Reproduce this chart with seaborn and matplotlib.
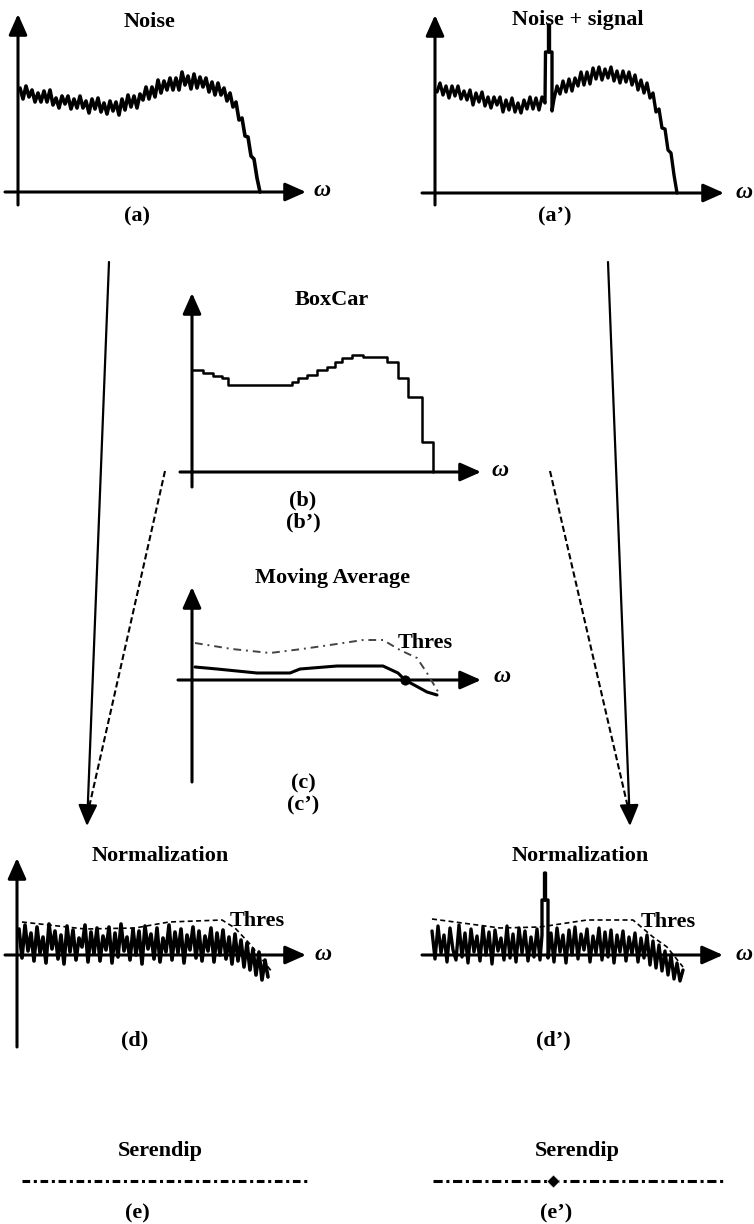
import numpy as np
import pandas as pd
import matplotlib
matplotlib.use("Agg")
import matplotlib.pyplot as plt
import seaborn as sns

# ---------------- data (units = pixels above each axis) ----------------
# (a) raw noise spectrum
a_freq = [2, 5, 8, 11, 14, 17, 20, 23, 26, 29, 32, 35, 38, 41, 44, 47, 50, 53, 56, 59,
          62, 65, 68, 71, 74, 77, 80, 83, 86, 89, 92, 95, 98, 101, 104, 107, 110, 113, 116, 119,
          122, 125, 128, 131, 134, 137, 140, 143, 146, 149, 152, 155, 158, 161, 164, 167, 170, 173, 176, 179,
          182, 185, 188, 191, 194, 197, 200, 203, 206, 209, 212, 215, 218, 221, 224, 227, 230, 233, 236, 239, 242]
a_power = [104, 93, 106, 95, 102, 90, 99, 90, 101, 90, 102, 87, 94, 84, 96, 88, 96, 83, 93, 84,
           96, 84, 91, 79, 93, 83, 94, 80, 89, 78, 91, 81, 90, 77, 93, 82, 97, 85, 96, 84,
           98, 92, 105, 93, 105, 95, 112, 99, 111, 102, 114, 102, 114, 102, 120, 107, 116, 103, 118, 104,
           115, 105, 114, 100, 110, 97, 109, 97, 104, 91, 99, 85, 90, 72, 74, 56, 55, 36, 33, 14, 0]

# (a') noise + narrow-band signal
a2_freq = [2, 5, 8, 11, 14, 17, 20, 23, 26, 29, 32, 35, 38, 41, 44, 47, 50, 53, 56, 59,
           62, 65, 68, 71, 74, 77, 80, 83, 86, 89, 92, 95, 98, 101, 104, 107, 110,
           110.5, 113.5, 113.5, 114.5, 114.5, 117, 117,
           119, 122, 125, 128, 131, 134, 137, 140, 143, 146, 149, 152, 155, 158, 161, 164, 167, 170, 173, 176,
           179, 182, 185, 188, 191, 194, 197, 200, 203, 206, 209, 212, 215, 218, 221, 224, 227, 230, 233, 236, 239, 242]
a2_power = [101, 110, 98, 107, 95, 107, 97, 107, 94, 102, 93, 103, 88, 100, 91, 101, 87, 96, 85, 96,
            88, 96, 81, 93, 83, 95, 81, 90, 80, 93, 84, 96, 84, 95, 83, 96, 90,
            141, 141, 168, 168, 141, 141, 82,
            94, 107, 99, 112, 101, 114, 102, 115, 107, 121, 108, 121, 109, 125, 114, 126, 113, 124, 115, 126,
            112, 122, 110, 122, 111, 121, 108, 118, 103, 113, 100, 110, 95, 100, 81, 84, 65, 64, 43, 40, 18, 0]

# (b) BoxCar smoothed spectrum (step edges)
b_freq = [1, 11, 21, 30, 36, 100, 106, 115, 125, 135, 143, 150, 160, 171, 195, 206, 216, 230, 241]
b_power = [102, 99, 96, 94, 87, 90, 94, 97, 102, 105, 110, 114, 117, 115, 110, 94, 75, 30, 0]

# (c) moving average and threshold
c_freq = [3, 25, 65, 98, 108, 145, 191, 206, 213, 235, 245]
c_avg = [13, 11, 7, 7, 11, 14, 14, 7, 0, -12, -15]
c_thr_freq = [3, 40, 78, 110, 138, 171, 191, 208, 225, 235, 248]
c_thr = [37, 31, 27, 31, 35, 40, 40, 30, 22, 7, -15]
c_cross = [213]

# (d) normalized noise
d_power = [26, -3, 30, 4, 22, -6, 28, 2, 18, -8, 31, 6, 24, -4, 20, -9, 29, 3, 25, -5,
           17, 8, 30, -7, 23, 1, 27, -6, 19, 5, 28, -8, 22, -2, 31, 4, 18, -5, 26, 0,
           24, -9, 29, 6, 21, -4, 27, -7, 17, 3, 30, -5, 23, 2, 26, -8, 20, 5, 28, -3,
           24, -6, 19, 4, 27, -7, 22, 0, 25, -4, 18, -9, 21, -6, 15, -12, 12, -15, 6, -20,
           3, -25, -5, -22]
d_freq = list(range(2, 2 + 3 * len(d_power), 3))
d_thr_freq = [5, 68, 118, 152, 205, 218, 232, 248, 255]
d_thr = [33, 26, 27, 33, 35, 27, 12, -8, -17]

# (d') normalized noise + signal
d2_freq = [0, 3, 6, 9, 12, 15, 18, 21, 24, 27, 30, 33, 36, 39, 42, 45, 48, 51, 54, 57,
           60, 63, 66, 69, 72, 75, 78, 81, 84, 87, 90, 93, 96, 99, 102, 105, 108,
           110, 110, 112.5, 112.5, 113.5, 113.5, 116, 116,
           119, 122, 125, 128, 131, 134, 137, 140, 143, 146, 149, 152, 155, 158, 161, 164, 167, 170, 173, 176,
           179, 182, 185, 188, 191, 194, 197, 200, 203, 206, 209, 212, 215, 218, 221, 224, 227, 230, 233, 236,
           239, 242, 245, 248, 251]
d2_power = [24, -4, 29, 2, 20, -7, 27, 5, -5, 30, -2, 22, -8, 26, 3, 19, -6, 28, 0, 23,
            -9, 25, 4, 17, -5, 29, -3, 21, -7, 27, 2, 24, -6, 18, -2, 26, -5,
            20, 55, 55, 82, 82, 55, 55, -3,
            22, -7, 27, 3, 20, -8, 25, 0, 28, -4, 21, 5, 26, -7, 19, 2, 27, -5, 23, -2,
            25, -8, 20, 3, 24, -6, 18, 1, 22, -7, 17, -3, 20, -10, 14, -13, 10, -16, 4, -20,
            0, -24, -8, -26, -15]
d2_thr_freq = [0, 68, 108, 155, 201, 221, 235, 251]
d2_thr = [36, 27, 28, 35, 35, 18, 8, -12]

# (e) Serendip output
e_span = [0, 285]
e2_span = [0, 292]
e2_hit = [120]

# ---------------- figure ----------------
W, H = 754, 1224
sns.set_theme(style="white")
plt.rcParams["font.family"] = ["Liberation Serif", "DejaVu Serif"]

fig = plt.figure(figsize=(W / 100, H / 100), dpi=100)
fig.patch.set_facecolor("white")

# overlay in pixel coordinates for labels and diagram arrows
ax0 = fig.add_axes([0, 0, 1, 1])
ax0.set_xlim(0, W)
ax0.set_ylim(H, 0)
ax0.axis("off")


def panel(ox, oy):
    ax = fig.add_axes([0, 0, 1, 1])
    ax.set_xlim(-ox, W - ox)
    ax.set_ylim(oy - H, oy)
    ax.axis("off")
    return ax


def arrow(x0, y0, x1, y1, lw=2.2, hl=0.9, hw=0.4, ms=14):
    ax0.annotate("", xy=(x1, y1), xytext=(x0, y0),
                 arrowprops=dict(arrowstyle=f"-|>,head_length={hl},head_width={hw}",
                                 mutation_scale=ms, lw=lw, color="black",
                                 shrinkA=0, shrinkB=0))


def txt(x, y, s, size=16, **kw):
    ax0.text(x, y, s, ha="center", va="center", fontsize=size,
             fontweight="bold", color="black", **kw)


def omega(x, y):
    ax0.text(x, y, "ω", ha="center", va="center", fontsize=17,
             fontweight="bold", fontstyle="italic", color="black")


# ---- axes arrows ----
arrow(18, 205, 18, 14); arrow(5, 192, 306, 192)
arrow(435, 205, 435, 15); arrow(422, 193, 724, 193)
arrow(192, 487, 192, 293); arrow(180, 472, 481, 472)
arrow(192, 782, 192, 587); arrow(178, 680, 481, 680)
arrow(17, 1047, 17, 858); arrow(5, 955, 306, 955)
arrow(422, 955, 723, 955)

# ---- flow arrows ----
arrow(109, 262, 87, 826, lw=1.6, hl=1.0, hw=0.45, ms=13)
ax0.plot([165, 88], [471, 812], color="black", lw=1.5, dashes=(3, 1.5))
arrow(608, 262, 630, 826, lw=1.6, hl=1.0, hw=0.45, ms=13)
ax0.plot([550, 629], [471, 812], color="black", lw=1.5, dashes=(3, 1.5))

# ---- (a) ----
ax = panel(18, 192)
sns.lineplot(x=a_freq, y=a_power, ax=ax, color="black", lw=2.6, sort=False, estimator=None)

# ---- (a') ----
ax = panel(435, 193)
sns.lineplot(x=a2_freq, y=a2_power, ax=ax, color="black", lw=2.4, sort=False, estimator=None)

# ---- (b) ----
ax = panel(192, 472)
sns.lineplot(x=b_freq, y=b_power, ax=ax, color="black", lw=1.8, sort=False,
             estimator=None, drawstyle="steps-post")

# ---- (c) ----
ax = panel(192, 680)
sns.lineplot(x=c_thr_freq, y=c_thr, ax=ax, color="#444444", lw=1.4, sort=False,
             estimator=None, linestyle=(0, (4, 2.5, 1, 2.5)))
sns.lineplot(x=c_freq, y=c_avg, ax=ax, color="black", lw=2.2, sort=False, estimator=None)
sns.scatterplot(x=c_cross, y=[0], ax=ax, color="black", s=45, edgecolor="black", zorder=5)

# ---- (d) ----
ax = panel(17, 955)
sns.lineplot(x=d_freq, y=d_power, ax=ax, color="black", lw=2.6, sort=False, estimator=None)
sns.lineplot(x=d_thr_freq, y=d_thr, ax=ax, color="black", lw=1.2, sort=False,
             estimator=None, linestyle=(0, (3, 2)))

# ---- (d') ----
ax = panel(432, 955)
sns.lineplot(x=d2_freq, y=d2_power, ax=ax, color="black", lw=2.4, sort=False, estimator=None)
sns.lineplot(x=d2_thr_freq, y=d2_thr, ax=ax, color="black", lw=1.2, sort=False,
             estimator=None, linestyle=(0, (3, 2)))

# ---- (e) / (e') ----
ax = panel(22, 1181)
sns.lineplot(x=e_span, y=[0, 0], ax=ax, color="black", lw=2.2, linestyle=(0, (2.5, 1.2, 1, 1.2)))
ax = panel(433, 1181)
sns.lineplot(x=e2_span, y=[0, 0], ax=ax, color="black", lw=2.2, linestyle=(0, (3, 1.2, 1, 1.2)))
sns.scatterplot(x=e2_hit, y=[0], ax=ax, color="black", marker="D", s=45, zorder=5)

# ---- texts ----
txt(150, 22, "Noise")
txt(578, 20, "Noise + signal")
txt(332, 300, "BoxCar")
txt(333, 578, "Moving Average")
txt(425, 643, "Thres")
txt(160, 856, "Normalization")
txt(580, 856, "Normalization")
txt(257, 921, "Thres")
txt(668, 922, "Thres")
txt(160, 1151, "Serendip")
txt(577, 1151, "Serendip")

txt(137, 216, "(a)")
txt(555, 216, "(a’)")
txt(303, 500, "(b)")
txt(303, 522, "(b’)")
txt(303, 783, "(c)")
txt(303, 805, "(c’)")
txt(135, 1040, "(d)")
txt(553, 1040, "(d’)")
txt(137, 1213, "(e)")
txt(556, 1213, "(e’)")

omega(322, 191)
omega(744, 192)
omega(500, 470)
omega(502, 676)
omega(323, 955)
omega(744, 955)

fig.savefig("out.png", dpi=100, facecolor="white")
